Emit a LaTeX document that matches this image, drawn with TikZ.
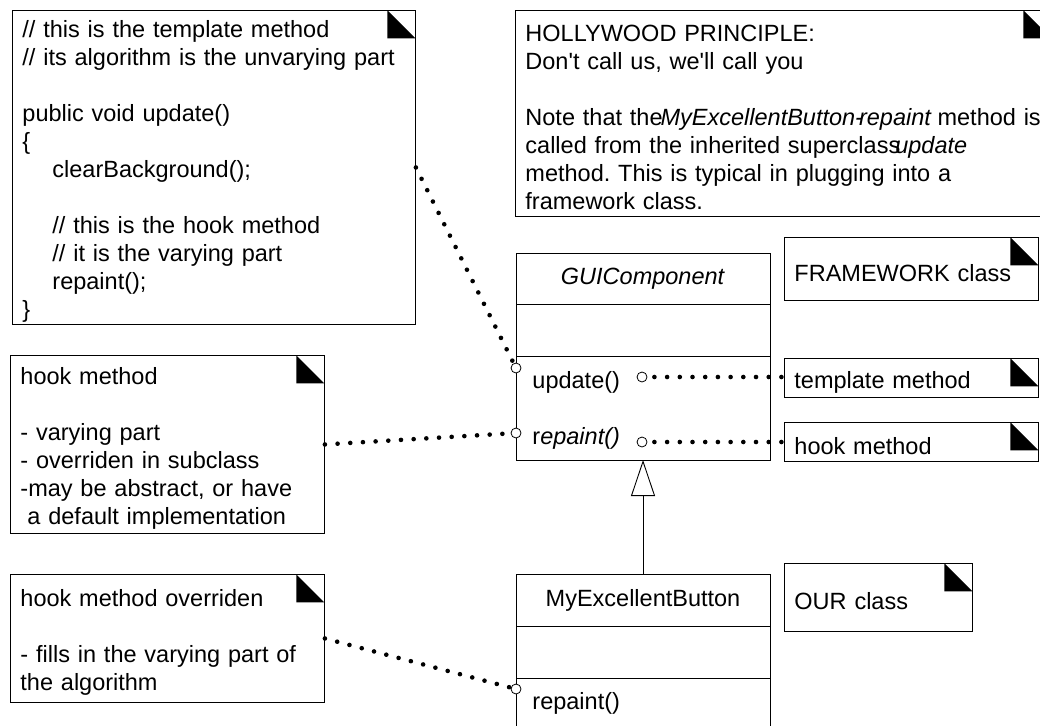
\documentclass[tikz,border=0pt]{standalone}
\usepackage{fontspec}
\setmainfont{Liberation Sans}
\usetikzlibrary{arrows.meta,positioning}
\frenchspacing

\begin{document}
\begin{tikzpicture}[x=1pt,y=-1pt,line width=0.9pt,
    every node/.style={font=\fontsize{23.5}{28}\selectfont},
    note/.style={draw,fill=white,anchor=north west,align=left,inner xsep=10pt,inner ysep=0pt,
      execute at begin node={\rule{0pt}{25pt}},
      path picture={\fill[black] ([xshift=-28pt]path picture bounding box.north east) -- ++(0pt,-28pt) -- ++(28pt,0pt) -- cycle;}},
    classpart/.style={draw,fill=white,minimum width=254pt,inner sep=0pt,outer sep=0pt},
    op/.style={anchor=west,inner sep=0pt},
    port/.style={draw,fill=white,circle,minimum size=10pt,inner sep=0pt,line width=0.8pt},
    notelink/.style={line width=4.6pt,line cap=round,dash pattern=on 0pt off 12.7pt}]
  \useasboundingbox (0,0) rectangle (1040,725);

  % notes
  \node[note,text width=383pt,minimum height=314pt] (code) at (12,10) {// this is the template method\\
    // its algorithm is the unvarying part\\[28pt]
    public void update()\\
    \{\\
    \hspace*{30pt}clearBackground();\\[28pt]
    \hspace*{30pt}// this is the hook method\\
    \hspace*{30pt}// it is the varying part\\
    \hspace*{30pt}repaint();\\
    \}};
  \node[note,text width=516pt,minimum height=206pt] (hollywood) at (515,10) {HOLLYWOOD PRINCIPLE:\\
    Don\textquotesingle t call us, we\textquotesingle ll call you\\[28pt]
    \mbox{Note that the\kern-2pt\textit{MyExcellentButton-\kern-4pt repaint}\kern-2pt\ method is}\\
    called from the inherited superclass\kern-5pt\textit{update}\\
    method. This is typical in plugging into a\\
    framework class.};
  \node[note,text width=234pt,minimum height=63pt] (framework) at (784,237) {FRAMEWORK class};
  \node[note,text width=234pt,minimum height=39pt] (tmpl) at (784,358) {template method};
  \node[note,text width=234pt,minimum height=39pt] (hookr) at (784,422) {hook method};
  \node[note,text width=294pt,minimum height=178pt] (hookl) at (10,355) {hook method\\[28pt]
    - varying part\\
    - overriden in subclass\\
    -may be abstract, or have\\
    \hspace*{7pt}a default implementation};
  \node[note,text width=294pt,minimum height=128pt] (ovr) at (10,574) {hook method overriden\\[28pt]
    - fills in the varying part of\\
    the algorithm};
  \node[note,text width=168pt,minimum height=68pt] (our) at (784,563) {OUR class};

  % GUIComponent
  \node[classpart,minimum height=51pt,anchor=north west] (guiname) at (516,253) {\textit{GUIComponent}};
  \node[classpart,minimum height=52pt,below=0pt of guiname] (guiattr) {};
  \node[classpart,minimum height=104pt,below=0pt of guiattr] (guiops) {};
  \node[op] (gupdate) at (532,382) {update()};
  \node[op] (grepaint) at (532,438) {r\textit{epaint()}};

  % MyExcellentButton
  \node[classpart,minimum height=52pt,anchor=north west] (mebname) at (516,574) {MyExcellentButton};
  \node[classpart,minimum height=52pt,below=0pt of mebname] (mebattr) {};
  \node[classpart,minimum height=104pt,below=0pt of mebattr] (mebops) {};
  \node[op] (mrepaint) at (532,703) {repaint()};

  % attachment points
  \node[port] (gupL) at (516,368) {};
  \node[port] (gupR) at (642,377) {};
  \node[port] (grpL) at (516,433) {};
  \node[port] (grpR) at (642,442) {};
  \node[port] (mrpL) at (516,689) {};

  \draw[notelink] (code.east) -- (gupL);
  \draw[notelink] (hookl.east) -- (grpL);
  \draw[notelink] (ovr.east) -- (mrpL);
  \draw[notelink,shorten <=7pt] (gupR) -- (gupR -| tmpl.west);
  \draw[notelink,shorten <=7pt] (grpR) -- (grpR -| hookr.west);

  \draw[-{Triangle[open,length=36pt,width=24pt]}] (mebname.north) -- (guiops.south);
\end{tikzpicture}
\end{document}
